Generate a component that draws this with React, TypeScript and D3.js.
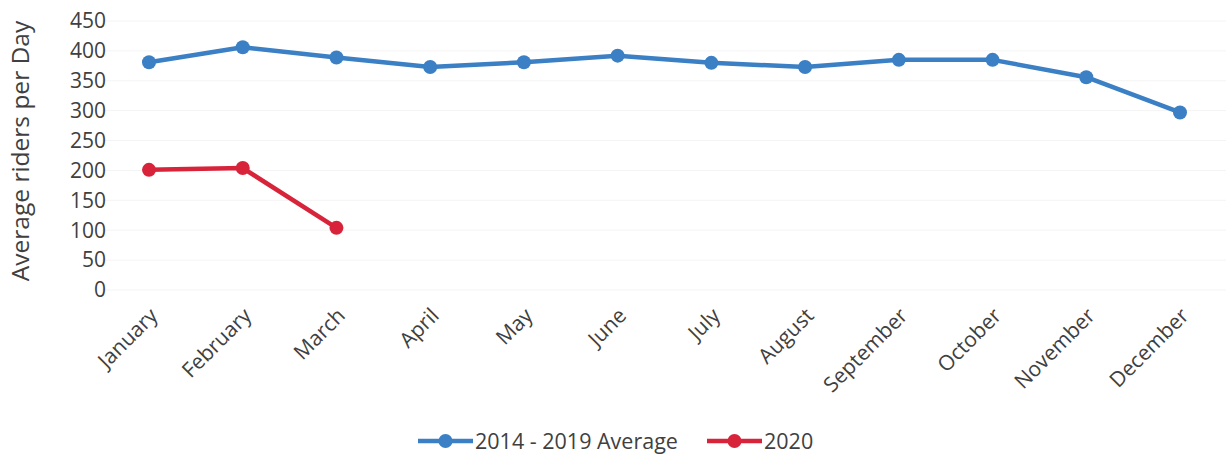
import React, { useEffect, useRef } from "react";
import * as d3 from "d3";

const months = ["January","February","March","April","May","June","July","August","September","October","November","December"];
const avgValues = [381, 406, 389, 373, 381, 392, 380, 373, 385, 385, 356, 297];
const values2020 = [201, 204, 104];
const yTicks = [0, 50, 100, 150, 200, 250, 300, 350, 400, 450];
const seriesNames = ["2014 - 2019 Average", "2020"];

const W = 1228, H = 454;
const BLUE = "#3b7fc4";
const RED = "#d8243b";
const TEXT = "#404040";
const FONT = "'Open Sans', sans-serif";

export default function App() {
  const ref = useRef<SVGSVGElement>(null);
  useEffect(() => {
    const svg = d3.select(ref.current);
    svg.selectAll("*").remove();
    const x = d3.scalePoint<string>().domain(months).range([149, 1180]);
    const y = d3.scaleLinear().domain([0, 450]).range([290, 21]);

    // faint gridlines
    svg.append("g").selectAll("line").data(yTicks).join("line")
      .attr("x1", 102).attr("x2", 1226)
      .attr("y1", d => y(d)).attr("y2", d => y(d))
      .attr("stroke", "#f4f4f4").attr("stroke-width", 1);

    // y ticks
    svg.append("g").selectAll("text").data(yTicks).join("text")
      .attr("x", 106).attr("y", d => y(d)).attr("dy", "0.35em")
      .attr("text-anchor", "end").attr("font-family", FONT).attr("font-size", 21)
      .attr("fill", TEXT).text(d => String(d));

    // y title
    svg.append("text")
      .attr("transform", "translate(29,151) rotate(-90)")
      .attr("text-anchor", "middle").attr("font-family", FONT).attr("font-size", 24.5)
      .attr("fill", TEXT).text("Average riders per Day");

    // x labels
    svg.append("g").selectAll("text").data(months).join("text")
      .attr("transform", d => `translate(${(x(d) as number) + 10},${317}) rotate(-45)`)
      .attr("text-anchor", "end").attr("font-family", FONT).attr("font-size", 21)
      .attr("fill", TEXT).text(d => d);

    const line = d3.line<number>().x((_, i) => x(months[i]) as number).y(d => y(d));
    const series = [
      { vals: avgValues, color: BLUE },
      { vals: values2020, color: RED },
    ];
    series.forEach(s => {
      svg.append("path").attr("d", line(s.vals)).attr("fill", "none")
        .attr("stroke", s.color).attr("stroke-width", 4.5).attr("stroke-linejoin", "round");
      svg.append("g").selectAll("circle").data(s.vals).join("circle")
        .attr("cx", (_, i) => x(months[i]) as number).attr("cy", d => y(d))
        .attr("r", 7).attr("fill", s.color);
    });

    // legend
    const legend = [
      { name: seriesNames[0], color: BLUE, x0: 418 },
      { name: seriesNames[1], color: RED, x0: 707 },
    ];
    legend.forEach(l => {
      const g = svg.append("g");
      g.append("line").attr("x1", l.x0).attr("x2", l.x0 + 55).attr("y1", 441).attr("y2", 441)
        .attr("stroke", l.color).attr("stroke-width", 4.5);
      g.append("circle").attr("cx", l.x0 + 27.5).attr("cy", 441).attr("r", 7).attr("fill", l.color);
      g.append("text").attr("x", l.x0 + 57).attr("y", 441).attr("dy", "0.35em")
        .attr("font-family", FONT).attr("font-size", 21.5).attr("fill", TEXT).text(l.name);
    });
  }, []);
  return (
    <svg ref={ref} width={W} height={H}
      style={{ position: "absolute", left: 0, top: 0, background: "#fff" }} />
  );
}
